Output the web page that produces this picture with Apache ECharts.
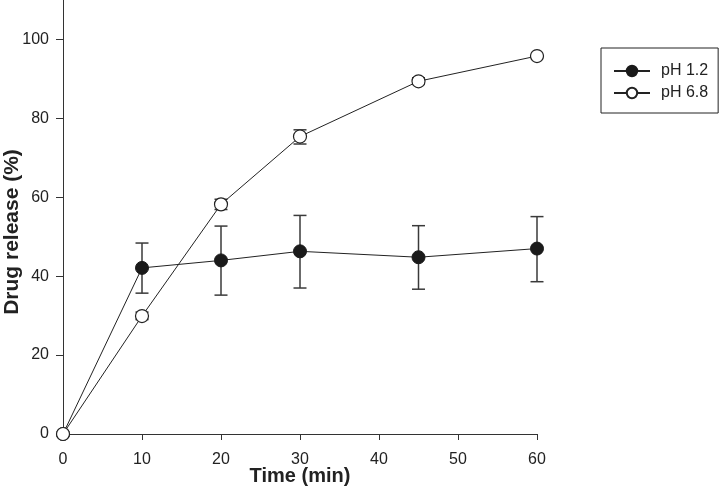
<!DOCTYPE html>
<html>
<head>
<meta charset="utf-8">
<script src="https://cdn.jsdelivr.net/npm/echarts@6/dist/echarts.min.js"></script>
<style>
  html, body { margin: 0; padding: 0; background: #fff; }
  #chart { width: 719px; height: 489px; }
</style>
</head>
<body>
<div id="chart"></div>
<script>
// time points (min)
const times = [0, 10, 20, 30, 45, 60]

// pH 1.2 mean and SD bounds
const ph12 = [0, 42.1, 44.0, 46.3, 44.8, 47.0]
const ph12Low = [0, 35.7, 35.2, 37.0, 36.7, 38.6]
const ph12High = [0, 48.4, 52.7, 55.4, 52.8, 55.1]

// pH 6.8 mean and SD bounds
const ph68 = [0, 29.9, 58.2, 75.4, 89.4, 95.8]
const ph68Low = [0, 29.0, 56.9, 73.5, 88.6, 95.5]
const ph68High = [0, 30.9, 59.5, 77.1, 90.3, 96.1]

const yTicks = [0, 20, 40, 60, 80, 100]
const xTicks = [0, 10, 20, 30, 40, 50, 60]

const font = 'Liberation Sans, Arial, sans-serif'

function pairs(xs, ys) {
  return xs.map((x, i) => [x, ys[i]])
}

function errorData(xs, lo, hi) {
  return xs.map((x, i) => [x, lo[i], hi[i]])
}

function renderError(params, api) {
  const x = api.value(0)
  const lo = api.coord([x, api.value(1)])
  const hi = api.coord([x, api.value(2)])
  const w = 6.5
  const style = { stroke: '#3a3a3a', lineWidth: 1.5, fill: null }
  return {
    type: 'group',
    children: [
      { type: 'line', shape: { x1: lo[0], y1: lo[1], x2: hi[0], y2: hi[1] }, style },
      { type: 'line', shape: { x1: hi[0] - w, y1: hi[1], x2: hi[0] + w, y2: hi[1] }, style },
      { type: 'line', shape: { x1: lo[0] - w, y1: lo[1], x2: lo[0] + w, y2: lo[1] }, style }
    ]
  }
}

const chart = echarts.init(document.getElementById('chart'), null, { renderer: 'canvas' })

chart.setOption({
  animation: false,
  backgroundColor: '#fff',
  textStyle: { fontFamily: font, color: '#222' },
  grid: { left: 63, right: 182, top: 0, bottom: 55, containLabel: false, outerBoundsMode: 'none' },
  // y axis title sits a little below the plot middle in the original
  graphic: [{
    type: 'text',
    x: 12,
    y: 232,
    rotation: Math.PI / 2,
    style: {
      text: 'Drug release (%)',
      fontFamily: font,
      fontSize: 21,
      fontWeight: 'bold',
      fill: '#222',
      align: 'center',
      verticalAlign: 'middle'
    }
  }],
  legend: {
    left: 601,
    top: 48,
    orient: 'vertical',
    padding: [15, 10, 12, 12],
    itemGap: 6,
    itemWidth: 36,
    itemHeight: 13,
    borderColor: '#222',
    borderWidth: 1,
    borderRadius: 0,
    textStyle: { fontFamily: font, fontSize: 16, color: '#222', padding: [0, 0, 0, 6] },
    data: ['pH 1.2', 'pH 6.8']
  },
  xAxis: {
    type: 'value',
    min: 0,
    max: 60,
    interval: 10,
    name: 'Time (min)',
    nameLocation: 'middle',
    nameGap: 32,
    nameMoveOverlap: false,
    nameTextStyle: { fontFamily: font, fontSize: 20, fontWeight: 'bold', color: '#222' },
    axisLine: { lineStyle: { color: '#333', width: 1 } },
    axisTick: { length: 6, lineStyle: { color: '#333' }, customValues: xTicks },
    axisLabel: { fontSize: 16, color: '#222', margin: 18, customValues: xTicks },
    splitLine: { show: false }
  },
  yAxis: {
    type: 'value',
    min: 0,
    max: 110,
    interval: 10,
    axisLine: { show: true, lineStyle: { color: '#333', width: 1 } },
    axisTick: { show: true, length: 7, lineStyle: { color: '#333' }, customValues: yTicks },
    axisLabel: { fontSize: 16, color: '#222', margin: 14, customValues: yTicks },
    splitLine: { show: false }
  },
  series: [
    {
      name: 'pH 1.2 SD',
      type: 'custom',
      renderItem: renderError,
      data: errorData(times, ph12Low, ph12High),
      z: 1,
      silent: true
    },
    {
      name: 'pH 6.8 SD',
      type: 'custom',
      renderItem: renderError,
      data: errorData(times, ph68Low, ph68High),
      z: 1,
      silent: true
    },
    {
      name: 'pH 1.2',
      type: 'line',
      data: pairs(times, ph12),
      symbol: 'circle',
      symbolSize: 13,
      showAllSymbol: true,
      lineStyle: { color: '#222', width: 1 },
      itemStyle: { color: '#1a1a1a', borderColor: '#1a1a1a', borderWidth: 1 },
      z: 3
    },
    {
      name: 'pH 6.8',
      type: 'line',
      data: pairs(times, ph68),
      symbol: 'circle',
      symbolSize: 13,
      showAllSymbol: true,
      lineStyle: { color: '#222', width: 1 },
      itemStyle: { color: '#fff', borderColor: '#222', borderWidth: 1.2 },
      z: 4
    }
  ]
})
</script>
</body>
</html>
